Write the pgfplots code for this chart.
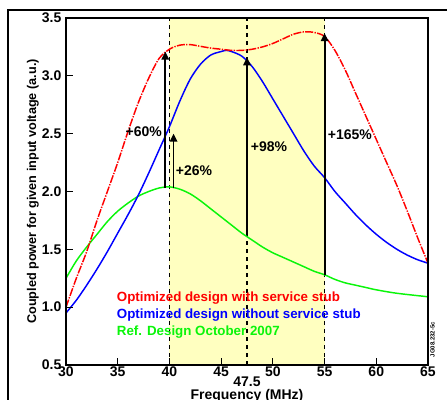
\documentclass[border=0pt]{standalone}
\usepackage{fontspec}
\setmainfont{Liberation Sans}
\usepackage{pgfplots}
\pgfplotsset{compat=1.18}
\usetikzlibrary{arrows.meta}

\definecolor{shade}{RGB}{255,255,192}
\definecolor{refgreen}{RGB}{10,245,10}

\begin{document}
\begin{tikzpicture}
\begin{axis}[
    at={(49.5pt,26.25pt)}, anchor=south west,
    scale only axis,
    width=271.5pt, height=260.25pt,
    xmin=30, xmax=65, ymin=0.5, ymax=3.5,
    xtick={30,35,...,65},
    ytick={0.5,1.0,...,3.5},
    yticklabel style={/pgf/number format/.cd,fixed,fixed zerofill,precision=1},
    xticklabel style={yshift=2pt},
    tick align=inside, xtick pos=bottom, ytick pos=left,
    major tick length=5pt,
    tick style={black, line width=0.9pt},
    axis line style={line width=1.1pt},
    ticklabel style={font=\fontsize{10.5}{12}\selectfont\bfseries},
    /pgf/number format/assume math mode=true,
    clip=false,
    axis on top,
  ]

  % shaded band 40--55 MHz
  \addplot[fill=shade, draw=none] coordinates {(40,0.5) (55,0.5) (55,3.5) (40,3.5)} -- cycle;
  % dashed markers
  \addplot[black, dashed, line width=0.9pt] coordinates {(40,0.5) (40,3.5)};
  \addplot[black, dashed, line width=0.9pt] coordinates {(47.5,0.5) (47.5,3.5)};
  \addplot[black, dashed, line width=0.9pt] coordinates {(55,0.5) (55,3.5)};

  % Ref. Design October 2007
  \addplot[color=refgreen, line width=1.1pt, smooth] coordinates {
    (30,1.25) (31,1.40) (32,1.52) (33,1.63) (34,1.74) (35,1.83) (36,1.90)
    (37,1.96) (38,2.00) (39,2.03) (40,2.04) (41,2.02) (42,1.98) (43,1.92)
    (44,1.85) (45,1.78) (46,1.71) (47,1.64) (48,1.58) (49,1.52) (50,1.47)
    (51,1.43) (52,1.39) (53,1.35) (54,1.31) (55,1.28) (56,1.24) (57,1.21)
    (58,1.19) (59,1.17) (60,1.15) (62,1.12) (65,1.09)
  };
  % Optimized design without service stub
  \addplot[blue, line width=1.1pt, smooth] coordinates {
    (30,0.95) (31,1.06) (32,1.19) (33,1.33) (34,1.48) (35,1.64) (36,1.80)
    (37,1.97) (38,2.16) (39,2.36) (40,2.56) (41,2.78) (42,2.97) (43,3.10)
    (44,3.18) (45,3.21) (45.5,3.22) (46,3.21) (47,3.17) (48,3.08) (49,2.95)
    (50,2.80) (51,2.65) (52,2.50) (53,2.35) (54,2.22) (55,2.12) (56,2.00)
    (57,1.90) (58,1.80) (59,1.71) (60,1.63) (61,1.56) (62,1.50) (63,1.45)
    (64,1.41) (65,1.38)
  };
  % Optimized design with service stub
  \addplot[red, line width=1.1pt, dash pattern=on 6pt off 1pt on 1pt off 1pt, smooth] coordinates {
    (30,1.00) (31,1.25) (32,1.48) (33,1.75) (34,2.00) (35,2.25) (36,2.52)
    (37,2.77) (38,2.98) (39,3.15) (40,3.23) (41,3.265) (42,3.27) (43,3.255)
    (44,3.24) (45,3.23) (46,3.22) (47,3.22) (48,3.23) (49,3.25) (50,3.28)
    (51,3.32) (52,3.36) (53,3.38) (54,3.375) (55,3.34) (56,3.22) (57,3.05)
    (58,2.85) (59,2.65) (60,2.45) (61,2.25) (62,2.05) (63,1.83) (64,1.60)
    (65,1.38)
  };

  % improvement arrows
  \addplot[black, line width=1.4pt, -{Triangle[length=6pt,width=5.5pt]}] coordinates {(39.6,2.03) (39.6,3.21)};
  \addplot[black, line width=1.4pt, -{Triangle[length=6pt,width=5.5pt]}] coordinates {(40.4,2.03) (40.4,2.50)};
  \addplot[black, line width=1.4pt, -{Triangle[length=6pt,width=5.5pt]}] coordinates {(47.5,1.62) (47.5,3.16)};
  \addplot[black, line width=1.4pt, -{Triangle[length=6pt,width=5.5pt]}] coordinates {(55,1.28) (55,3.37)};

  \begin{scope}[font=\fontsize{10.5}{12}\selectfont\bfseries]
  \node[anchor=east, inner sep=0pt] at (axis cs:39.3,2.52) {+60\%};
  \node[anchor=west, inner sep=0pt] at (axis cs:40.6,2.18) {+26\%};
  \node[anchor=west, inner sep=0pt] at (axis cs:47.85,2.39) {+98\%};
  \node[anchor=west, inner sep=0pt] at (axis cs:55.3,2.49) {+165\%};
  \node[inner sep=0pt] at (axis cs:47.5,0.355) {47.5};
  \node[inner sep=0pt] at (axis cs:47.5,0.235) {Frequency (MHz)};
  \end{scope}
  \node[rotate=90, inner sep=0pt, font=\fontsize{9.5}{11}\selectfont\bfseries] at (axis cs:26.8,2.0) {Coupled power for given input voltage (a.u.)};

  \begin{scope}[font=\fontsize{10}{12}\selectfont\bfseries]
  \node[anchor=west, inner sep=0pt, text=red] at (axis cs:34.9,1.076) {Optimized design with service stub};
  \node[anchor=west, inner sep=0pt, text=blue] at (axis cs:34.9,0.93) {Optimized design without service stub};
  \node[anchor=west, inner sep=0pt, text=refgreen] at (axis cs:34.9,0.788) {Ref. Design October 2007};
  \end{scope}
  \node[rotate=90, font=\fontsize{4.5}{5}\selectfont\bfseries, inner sep=0pt] at (axis cs:65.45,0.72) {JG08.232-5c};
\end{axis}
% outer frame of the figure (cropped on right and bottom)
\draw[line width=0.8pt] (6pt,0pt) -- (6pt,292.5pt) -- (335.25pt,292.5pt);
\pgfresetboundingbox
\useasboundingbox (0,0) rectangle (335.25pt,300pt);
\end{tikzpicture}
\end{document}
